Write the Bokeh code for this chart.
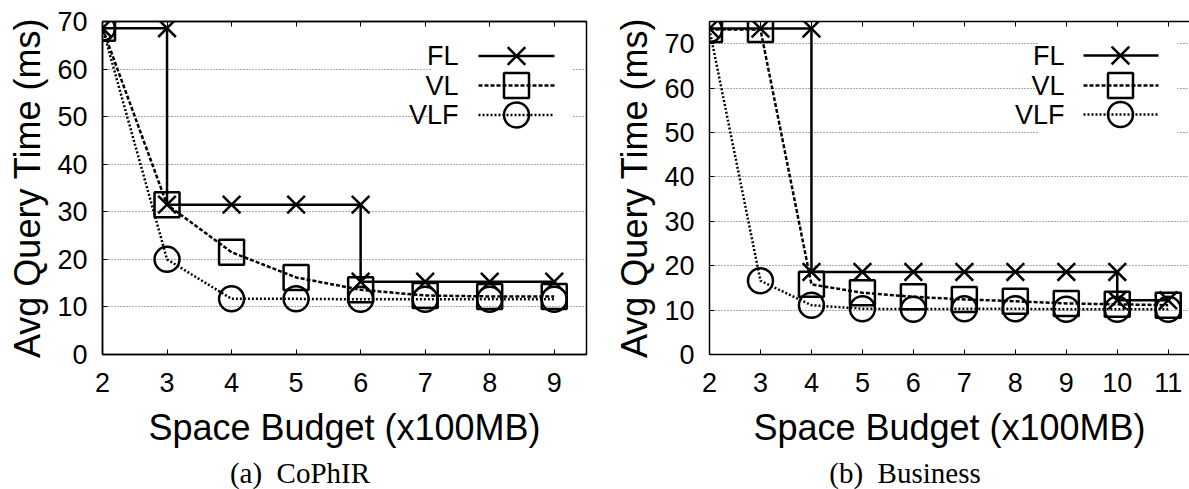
from bokeh.plotting import figure
from bokeh.layouts import row, column
from bokeh.models import Range1d, LinearAxis, BoxAnnotation, FixedTicker, Div
from bokeh.core.properties import value
from bokeh.embed import file_html
from bokeh.resources import INLINE

# ---------------- data ----------------
series_names = ["FL", "VL", "VLF"]

# (a) CoPhIR
a_xticks = [2, 3, 4, 5, 6, 7, 8, 9]
a_fl_x = [2, 3, 3, 4, 5, 6, 6, 7, 8, 9]
a_fl_y = [68.6, 68.6, 31.5, 31.5, 31.5, 31.5, 15.3, 15.3, 15.3, 15.3]
a_vl_x = [2, 3, 4, 5, 6, 7, 8, 9]
a_vl_y = [68.6, 31.5, 21.5, 16.2, 13.6, 12.4, 12.2, 12.2]
a_vlf_x = [2, 3, 4, 5, 6, 7, 8, 9]
a_vlf_y = [68.6, 20.0, 11.7, 11.7, 11.6, 11.6, 11.6, 11.6]

# (b) Business
b_xticks = [2, 3, 4, 5, 6, 7, 8, 9, 10, 11]
b_fl_x = [2, 3, 4, 4, 5, 6, 7, 8, 9, 10, 10, 11]
b_fl_y = [73.4, 73.4, 73.4, 18.6, 18.6, 18.6, 18.6, 18.6, 18.6, 18.6, 12.2, 12.2]
b_vl_x = [2, 3, 4, 5, 6, 7, 8, 9, 10, 11]
b_vl_y = [73.2, 73.2, 15.8, 13.9, 13.0, 12.4, 12.0, 11.5, 11.3, 11.1]
b_vlf_x = [2, 3, 4, 5, 6, 7, 8, 9, 10, 11]
b_vlf_y = [73.2, 16.6, 11.1, 10.3, 10.2, 10.3, 10.3, 10.2, 10.2, 10.2]

yticks = [0, 10, 20, 30, 40, 50, 60, 70]
x_title = "Space Budget (x100MB)"
y_title = "Avg Query Time (ms)"
captions = ["(a)&nbsp;&nbsp;CoPhIR", "(b)&nbsp;&nbsp;Business"]

SANS = "Liberation Sans"
SERIF = "Liberation Serif"

styles = {
    "FL": dict(dash="solid", marker="x"),
    "VL": dict(dash="4 2", marker="square"),
    "VLF": dict(dash="2 2", marker="circle"),
}

H = 458
BT = 21
FB = 354  # frame bottom in canvas px


def make_panel(width, bl, br, x_end, y_end, xticks, series, outline, leg):
    bb = H - FB
    p = figure(width=width, height=H, output_backend="svg", toolbar_location=None,
               min_border_left=bl, min_border_right=br, min_border_top=BT,
               min_border_bottom=bb, x_range=Range1d(2, x_end),
               y_range=Range1d(0, y_end))
    p.background_fill_color = "white"
    p.border_fill_color = "white"
    p.outline_line_color = "black" if outline else None
    p.outline_line_width = 1.5

    fl, fr = bl, width - br
    ft, fb = BT, FB

    def dx(px):
        return 2 + (px - fl) * (x_end - 2) / (fr - fl)

    def dy(py):
        return y_end * (fb - py) / (fb - ft)

    for ax in (p.xaxis[0], p.yaxis[0]):
        ax.major_label_text_font = SANS
        ax.major_label_text_font_size = "27px"
        ax.major_label_text_color = "black"
        ax.axis_label_text_font = SANS
        ax.axis_label_text_font_size = "36px"
        ax.axis_label_text_font_style = "normal"
        ax.axis_label_text_color = "black"
        ax.minor_tick_line_color = None
        ax.major_tick_in = 5
        ax.major_tick_out = 0
        ax.axis_line_width = 1.5
        ax.axis_line_color = "black"
        ax.major_tick_line_color = "black"
    p.xaxis.ticker = FixedTicker(ticks=xticks)
    p.yaxis.ticker = FixedTicker(ticks=yticks)
    p.xaxis.axis_label = x_title
    p.yaxis.axis_label = y_title
    p.xaxis.major_label_standoff = 18
    p.xaxis.axis_label_standoff = 12
    p.yaxis.major_label_standoff = 15
    p.yaxis.axis_label_standoff = 6

    top = LinearAxis(ticker=FixedTicker(ticks=xticks),
                     major_label_overrides={t: "" for t in xticks},
                     major_tick_in=5, major_tick_out=0, minor_tick_line_color=None,
                     axis_line_width=1.5, major_label_standoff=0)
    p.add_layout(top, "above")

    p.xgrid.visible = False
    p.ygrid.grid_line_color = "#555555"
    p.ygrid.grid_line_dash = "1 2"
    p.ygrid.grid_line_width = 1

    # legend backing box (blanks the grid like gnuplot's key)
    bx0, bx1, by0, by1 = leg["box"]
    box = BoxAnnotation(left=dx(bx0), right=dx(bx1), top=dy(by0), bottom=dy(by1),
                        fill_color="white", fill_alpha=1.0, line_color=None,
                        level="underlay")
    p.add_layout(box)

    for name, (xs, ys) in zip(series_names, series):
        st = styles[name]
        p.line(xs, ys, line_color="black", line_width=2.5, line_dash=st["dash"])
    for name, (xs, ys) in zip(series_names, series):
        st = styles[name]
        p.scatter(xs, ys, marker=st["marker"], size=25, line_color="black",
                  line_width=2.5, fill_color=None)

    # gnuplot-style key: text right-aligned, then sample line with marker
    for i, name in enumerate(series_names):
        st = styles[name]
        yy = dy(leg["rows"][i])
        p.text([dx(leg["text_r"])], [yy], text=[name], text_font=value(SANS),
               text_font_size="27px", text_align="right", text_baseline="middle",
               text_color="black")
        p.line([dx(leg["s0"]), dx(leg["s1"])], [yy, yy], line_color="black",
               line_width=2.5, line_dash=st["dash"])
        p.scatter([dx(leg["m"])], [yy], marker=st["marker"], size=25,
                  line_color="black", line_width=2.5, fill_color=None)
    return p


leg_a = dict(box=(431, 571, 38, 130), rows=(55.5, 85, 114.5), text_r=458,
             s0=478, s1=554, m=516)
leg_b = dict(box=(438, 577, 36, 137), rows=(55, 85, 114), text_r=464,
             s0=483, s1=558, m=520)

p1 = make_panel(600, 102, 14, 9.5, 70, a_xticks,
                [(a_fl_x, a_fl_y), (a_vl_x, a_vl_y), (a_vlf_x, a_vlf_y)],
                True, leg_a)
p2 = make_panel(589, 109, 0, 2 + 480 / 50.97, 75, b_xticks,
                [(b_fl_x, b_fl_y), (b_vl_x, b_vl_y), (b_vlf_x, b_vlf_y)],
                False, leg_b)


def caption_div(text, width, pad_left):
    html = ('<div style="font-family: \'%s\'; font-size: 29px; color: black; '
            'text-align: center; width: %dpx; padding-left: %dpx; '
            'box-sizing: border-box; line-height: 30px; padding-top: 0px;">%s</div>'
            % (SERIF, width, pad_left, text))
    return Div(text=html, width=width, height=489 - H, margin=0)


d1 = caption_div(captions[0], 600, 0)
d2 = caption_div(captions[1], 589, 21)

layout = column(row(p1, p2, spacing=0), row(d1, d2, spacing=0), spacing=0)
open("out.html", "w").write(file_html(layout, INLINE))
